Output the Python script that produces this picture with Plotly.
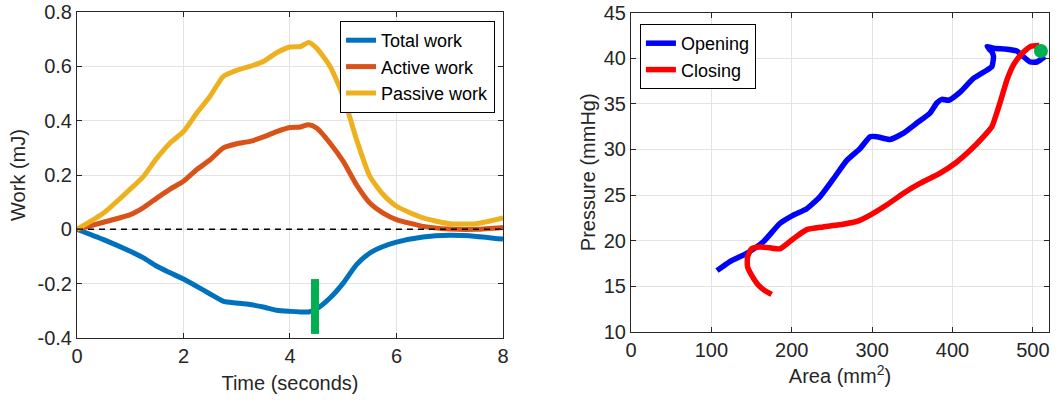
import plotly.graph_objects as go

# ---- Left panel data (Work vs Time) ----
time_s = [0, 0.5, 1.0, 1.25, 1.5, 1.75, 2.0, 2.25, 2.5, 2.75, 3.0, 3.25, 3.5, 3.75,
          4.0, 4.2, 4.35, 4.5, 4.75, 5.0, 5.25, 5.5, 5.75, 6.0, 6.5, 7.0, 7.5, 8.0]
total_work = [0, -0.038, -0.081, -0.105, -0.136, -0.160, -0.183, -0.210, -0.238, -0.265,
              -0.271, -0.277, -0.286, -0.298, -0.302, -0.304, -0.304, -0.293, -0.253,
              -0.198, -0.130, -0.087, -0.063, -0.047, -0.028, -0.022, -0.026, -0.036]
active_work = [0, 0.026, 0.054, 0.080, 0.115, 0.148, 0.177, 0.220, 0.256, 0.300, 0.315,
               0.324, 0.340, 0.360, 0.375, 0.377, 0.385, 0.373, 0.318, 0.250, 0.164,
               0.097, 0.060, 0.036, 0.011, 0.001, 0.000, 0.007]
passive_work = [0, 0.060, 0.148, 0.195, 0.262, 0.318, 0.360, 0.428, 0.490, 0.563, 0.585,
                0.600, 0.618, 0.650, 0.671, 0.673, 0.688, 0.667, 0.600, 0.490, 0.330,
                0.195, 0.128, 0.085, 0.042, 0.021, 0.021, 0.042]
zero_x = [0, 8]
zero_y = [0, 0]
marker_t = [4.47, 4.47]
marker_w = [-0.183, -0.385]

left_yticks = [-0.4, -0.2, 0, 0.2, 0.4, 0.6, 0.8]
left_yticklabels = ["-0.4", "-0.2", "0", "0.2", "0.4", "0.6", "0.8"]
left_xticks = [0, 2, 4, 6, 8]

# ---- Right panel data (Pressure vs Area) ----
open_area = [107, 123, 144, 165, 185.5, 202, 218.7, 235, 252, 268.5, 285, 297.5, 306, 322,
             339, 355.6, 372, 380.5, 386.7, 395, 409.5, 426, 442.7, 449, 451, 449, 443,
             451, 467.6, 480, 488, 496.7, 505, 515]
open_pressure = [16.7, 17.7, 18.6, 19.9, 21.9, 22.8, 23.5, 24.8, 26.8, 28.8, 30.1, 31.4,
                 31.4, 31.1, 31.8, 32.9, 34.0, 35.1, 35.5, 35.4, 36.3, 37.8, 38.7, 39.1,
                 40.2, 40.7, 41.3, 41.1, 41.0, 40.8, 40.2, 39.6, 39.6, 40.2]
close_area = [508, 497, 486, 476, 467.6, 461.4, 455, 449, 438.6, 422, 405, 384.6, 360, 339,
              318, 297.5, 281, 264, 239, 218.7, 202, 185.5, 173, 160.6, 150, 145, 145,
              150, 158.5, 166.8, 175]
close_pressure = [41.4, 41.3, 40.5, 39.3, 37.6, 35.8, 34.0, 32.5, 31.4, 29.9, 28.6, 27.4,
                  26.3, 25.2, 23.9, 22.8, 22.1, 21.8, 21.5, 21.2, 20.2, 19.1, 19.2, 19.3,
                  19.1, 18.2, 17.1, 16.2, 15.1, 14.5, 14.1]
dot_area = [510]
dot_pressure = [40.8]

right_xticks = [0, 100, 200, 300, 400, 500]
right_yticks = [10, 15, 20, 25, 30, 35, 40, 45]

FONT = "Liberation Sans, Arial, Helvetica, sans-serif"
TXT = "#262626"
GRID = "#e3e3e3"
FS = 20
LFS = 18

fig = go.Figure()

fig.add_trace(go.Scatter(x=time_s, y=total_work, mode="lines", name="Total work",
                         line=dict(color="#0072BD", width=5, shape="spline", smoothing=0.6),
                         xaxis="x", yaxis="y", legend="legend"))
fig.add_trace(go.Scatter(x=time_s, y=active_work, mode="lines", name="Active work",
                         line=dict(color="#D95319", width=5, shape="spline", smoothing=0.6),
                         xaxis="x", yaxis="y", legend="legend"))
fig.add_trace(go.Scatter(x=time_s, y=passive_work, mode="lines", name="Passive work",
                         line=dict(color="#EDB120", width=5, shape="spline", smoothing=0.6),
                         xaxis="x", yaxis="y", legend="legend"))
fig.add_trace(go.Scatter(x=zero_x, y=zero_y, mode="lines", showlegend=False,
                         line=dict(color="black", width=1.5, dash="6px,5px"),
                         xaxis="x", yaxis="y"))
fig.add_trace(go.Scatter(x=marker_t, y=marker_w, mode="lines", showlegend=False,
                         line=dict(color="#00B050", width=8),
                         xaxis="x", yaxis="y"))

fig.add_trace(go.Scatter(x=open_area, y=open_pressure, mode="lines", name="Opening",
                         line=dict(color="#0000FF", width=5.5, shape="spline", smoothing=0.5),
                         xaxis="x2", yaxis="y2", legend="legend2"))
fig.add_trace(go.Scatter(x=close_area, y=close_pressure, mode="lines", name="Closing",
                         line=dict(color="#FF0000", width=5.5, shape="spline", smoothing=0.5),
                         xaxis="x2", yaxis="y2", legend="legend2"))
fig.add_trace(go.Scatter(x=dot_area, y=dot_pressure, mode="markers", showlegend=False,
                         marker=dict(color="#00B050", size=14),
                         xaxis="x2", yaxis="y2", cliponaxis=False))

axis_common = dict(showline=True, linecolor=TXT, linewidth=1, mirror="ticks",
                   ticks="inside", ticklen=5, tickcolor=TXT, showgrid=True,
                   gridcolor=GRID, gridwidth=1, zeroline=False, automargin=False,
                   ticklabeloverflow="allow",
                   tickfont=dict(family=FONT, size=FS, color=TXT),
                   title_font=dict(family=FONT, size=FS, color=TXT))

fig.update_layout(
    width=1063, height=400,
    margin=dict(l=0, r=0, t=0, b=0),
    paper_bgcolor="white", plot_bgcolor="white",
    font=dict(family=FONT, size=FS, color=TXT),
    xaxis=dict(domain=[0.0724, 0.4732], range=[0, 8], tickvals=left_xticks,
               title=dict(text="Time (seconds)", standoff=9), anchor="y", **axis_common),
    yaxis=dict(domain=[0.155, 0.97], range=[-0.4, 0.8], tickvals=left_yticks,
               ticktext=left_yticklabels, title=dict(text="Work (mJ)", standoff=6),
               anchor="x", **axis_common),
    xaxis2=dict(domain=[0.5936, 0.9868], range=[0, 520], tickvals=right_xticks,
                title=dict(text="Area (mm<sup>2</sup>)", standoff=9), anchor="y2",
                **axis_common),
    yaxis2=dict(domain=[0.1708, 0.968], range=[10, 45], tickvals=right_yticks,
                title=dict(text="Pressure (mmHg)", standoff=2), anchor="x2",
                **axis_common),
    legend=dict(x=0.4657, y=0.9475, xanchor="right", yanchor="top",
                bgcolor="white", bordercolor="black", borderwidth=1,
                font=dict(family=FONT, size=LFS, color="black"),
                tracegroupgap=0, itemwidth=30),
    legend2=dict(x=0.602, y=0.94, xanchor="left", yanchor="top",
                 bgcolor="white", bordercolor="black", borderwidth=1,
                 font=dict(family=FONT, size=LFS, color="black"),
                 tracegroupgap=0, itemwidth=30),
)

# remove the default 8px page margin so the figure fills the window exactly
fig.write_html("out.html", config={"displayModeBar": False},
               post_script="document.body.style.margin='0';")
